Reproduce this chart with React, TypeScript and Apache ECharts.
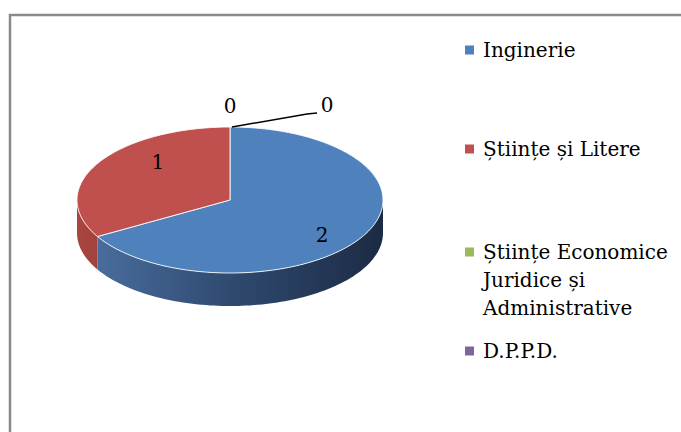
import React, { useEffect, useRef } from "react";
import * as echarts from "echarts";

// Faculty breakdown shown as a tilted 3D pie
const CATEGORIES = [
  "Inginerie",
  "Științe și Litere",
  "Științe Economice Juridice și Administrative",
  "D.P.P.D.",
];
const VALUES = [2, 1, 0, 0];
const COLORS = ["#4f81bd", "#c0504d", "#9bbb59", "#8064a2"];
// light / mid / dark shades for the rim of each slice
const SIDE_SHADES = [
  ["#4d72a3", "#2f4a70", "#1c2b44"],
  ["#a8453f", "#7a302d", "#4e1d1c"],
  ["#7d9a45", "#5b7232", "#3b4a21"],
  ["#67508a", "#4b3a65", "#302542"],
];

// layout of the pie and the colour key
const CX = 230;
const CY = 200;
const RX = 153;
const RY = 73;
const DEPTH = 33;
const KEY_LEFT = 465;
const KEY_CENTERS = [50, 149, 252, 351];
const KEY_SIZE = 9;
const KEY_WRAP = 200;
const FONT = "DejaVu Serif";
const FONT_SIZE = 20;
const LINE_H = 28;

const total = () => VALUES.reduce((a, b) => a + b, 0);

const pt = (t: number, dy = 0): number[] => [
  CX + RX * Math.sin(t),
  CY - RY * Math.cos(t) + dy,
];

const arc = (from: number, to: number, dy: number): number[][] => {
  const n = Math.max(2, Math.ceil(Math.abs(to - from) / (Math.PI / 120)));
  const out: number[][] = [];
  for (let i = 0; i <= n; i++) out.push(pt(from + ((to - from) * i) / n, dy));
  return out;
};

// word-wrap a name to the key column width
let measureCtx: CanvasRenderingContext2D | null = null;
function wrapName(name: string): string[] {
  if (!measureCtx) measureCtx = document.createElement("canvas").getContext("2d");
  const ctx = measureCtx!;
  ctx.font = `${FONT_SIZE}px "${FONT}"`;
  const lines: string[] = [];
  let cur = "";
  for (const w of name.split(" ")) {
    const next = cur ? cur + " " + w : w;
    if (cur && ctx.measureText(next).width > KEY_WRAP) {
      lines.push(cur);
      cur = w;
    } else cur = next;
  }
  if (cur) lines.push(cur);
  return lines;
}

const labelStyle = (text: string) => ({
  text,
  fontFamily: FONT,
  fontSize: FONT_SIZE,
  fill: "#000",
  align: "center",
  verticalAlign: "middle",
});

function makeRenderItem(idx: number) {
  return (_params: any, api: any) => {
    const value = Number(api.value(0));
    const sum = total();
    const before = VALUES.slice(0, idx).reduce((a, b) => a + b, 0);
    const a0 = (before / sum) * Math.PI * 2;
    const a1 = a0 + (value / sum) * Math.PI * 2;
    const children: any[] = [];

    if (value > 0) {
      // visible front rim (angles between 3 and 9 o'clock, clockwise from top)
      const s0 = Math.max(a0, Math.PI / 2);
      const s1 = Math.min(a1, Math.PI * 1.5);
      if (s1 > s0) {
        const shades = SIDE_SHADES[idx];
        children.push({
          type: "polygon",
          shape: { points: [...arc(s0, s1, 0), ...arc(s1, s0, DEPTH)] },
          style: {
            fill: new echarts.graphic.LinearGradient(
              CX - RX,
              0,
              CX + RX,
              0,
              [
                { offset: 0, color: shades[0] },
                { offset: 0.5, color: shades[1] },
                { offset: 1, color: shades[2] },
              ],
              true
            ),
          },
        });
      }
      // top face
      children.push({
        type: "polygon",
        shape: { points: [[CX, CY], ...arc(a0, a1, 0)] },
        style: {
          fill: COLORS[idx],
          stroke: "rgba(255,255,255,0.85)",
          lineWidth: 1,
        },
      });
      const mid = (a0 + a1) / 2;
      children.push({
        type: "text",
        x: CX + 10 + RX * 0.62 * Math.sin(mid),
        y: CY - 2 - RY * Math.cos(mid),
        style: labelStyle(String(value)),
      });
    } else {
      // empty slice: label above the rim, further ones pulled aside with a leader
      let k = 0;
      for (let j = idx - 1; j >= 0 && VALUES[j] === 0; j--) k++;
      const p = pt(a0);
      if (k === 0) {
        children.push({
          type: "text",
          x: p[0],
          y: p[1] - 21,
          style: labelStyle(String(value)),
        });
      } else {
        const shift = (k - 1) * 40;
        children.push({
          type: "polyline",
          shape: {
            points: [
              [p[0] + 2, p[1]],
              [p[0] + 77 + shift, p[1] - 13],
              [p[0] + 87 + shift, p[1] - 14],
            ],
          },
          style: { stroke: "#000", lineWidth: 1.5, fill: "none" },
        });
        children.push({
          type: "text",
          x: p[0] + 97 + shift,
          y: p[1] - 22,
          style: labelStyle(String(value)),
        });
      }
    }
    return { type: "group", children };
  };
}

// colour key: square marker level with the first line of each name
function buildKey(): any[] {
  const items: any[] = [];
  CATEGORIES.forEach((name, i) => {
    const c = KEY_CENTERS[i];
    items.push({
      type: "rect",
      shape: {
        x: KEY_LEFT,
        y: c - KEY_SIZE / 2,
        width: KEY_SIZE,
        height: KEY_SIZE,
      },
      style: { fill: COLORS[i] },
    });
    wrapName(name).forEach((line, li) => {
      items.push({
        type: "text",
        x: KEY_LEFT + KEY_SIZE + 9,
        y: c + li * LINE_H,
        style: {
          text: line,
          fontFamily: FONT,
          fontSize: FONT_SIZE,
          fill: "#000",
          align: "left",
          verticalAlign: "middle",
        },
      });
    });
  });
  return items;
}

export default function App() {
  const ref = useRef<HTMLDivElement>(null);

  useEffect(() => {
    if (!ref.current) return;
    const chart = echarts.init(ref.current, undefined, { renderer: "svg" });
    chart.setOption({
      animation: false,
      backgroundColor: "#ffffff",
      graphic: [
        {
          type: "rect",
          z: -10,
          shape: { x: 10, y: 15, width: 720, height: 460 },
          style: { fill: "none", stroke: "#8a8a8a", lineWidth: 2.5 },
        },
        ...buildKey(),
      ],
      series: CATEGORIES.map((name, i) => ({
        type: "custom",
        name,
        coordinateSystem: "none",
        silent: true,
        itemStyle: { color: COLORS[i] },
        data: [[VALUES[i]]],
        renderItem: makeRenderItem(i),
      })),
    });
    return () => chart.dispose();
  }, []);

  return (
    <div
      ref={ref}
      style={{ position: "absolute", left: 0, top: 0, width: 681, height: 432 }}
    />
  );
}
